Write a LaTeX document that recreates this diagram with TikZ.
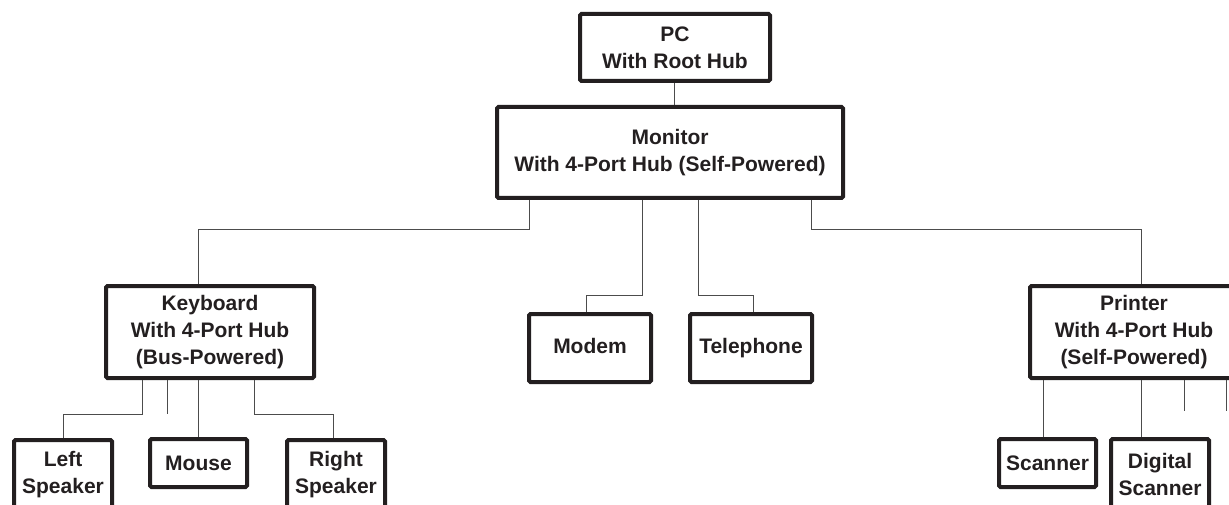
\documentclass[tikz,border=0pt]{standalone}
\usepackage{fontspec}
\setmainfont{Liberation Sans}
\usetikzlibrary{positioning}
\definecolor{inkgray}{HTML}{231F20}
\begin{document}
\begin{tikzpicture} [
				x=1pt, y=-1pt,
				every node/.style={font=\bfseries\fontsize{21}{27}\selectfont, text=inkgray},
				device/.style={draw=inkgray, line width=4pt, rounded corners=1.5pt, align=center, inner sep=0pt},
				link/.style={draw=black!70, line width=1pt}
			]
			\useasboundingbox (0,0) rectangle (1229,505);
			\node [device, minimum width=190pt, minimum height=67pt] (pc) at (675,47.5) {PC\\With Root Hub};
			\node [device, minimum width=346pt, minimum height=91pt] (monitor) at (670,152.5) {Monitor\\With 4-Port Hub (Self-Powered)};
			\node [device, minimum width=208pt, minimum height=92pt] (keyboard) at (210,332) {Keyboard\\With 4-Port Hub\\(Bus-Powered)};
			\node [device, minimum width=122pt, minimum height=68pt, text height=15pt, text depth=4.5pt] (modem) at (590,348) {Modem};
			\node [device, minimum width=122pt, minimum height=68pt, text height=15pt, text depth=4.5pt] (telephone) at (751,348) {Telephone};
			\node [device, minimum width=208pt, minimum height=92pt] (printer) at (1134,332) {Printer\\With 4-Port Hub\\(Self-Powered)};
			\node [device, minimum width=98pt, minimum height=70pt] (leftspeaker) at (63,475) {Left\\Speaker};
			\node [device, minimum width=97pt, minimum height=48pt] (mouse) at (198.5,463) {Mouse};
			\node [device, minimum width=98pt, minimum height=70pt] (rightspeaker) at (336,475) {Right\\Speaker};
			\node [device, minimum width=97pt, minimum height=48pt] (scanner) at (1047.5,463) {Scanner};
			\node [device, minimum width=98pt, minimum height=70pt] (digitalscanner) at (1160,474) {Digital\\Scanner};

			\draw [link] ([xshift=-1pt]pc.south) -- ([xshift=-1pt]pc.south |- monitor.north);
			\draw [link] ([xshift=-141pt]monitor.south) -- ++(0,30) -| ([xshift=-12pt]keyboard.north);
			\draw [link] ([xshift=-28pt]monitor.south) -- ++(0,95) -| ([xshift=-4pt]modem.north);
			\draw [link] ([xshift=28pt]monitor.south) -- ++(0,95) -| ([xshift=2pt]telephone.north);
			\draw [link] ([xshift=141pt]monitor.south) -- ++(0,30) -| ([xshift=7pt]printer.north);

			\draw [link] ([xshift=-68pt]keyboard.south) -- ++(0,34) -| (leftspeaker.north);
			\draw [link] ([xshift=-43pt]keyboard.south) -- ++(0,34);
			\draw [link] (mouse.north |- keyboard.south) -- (mouse.north);
			\draw [link] ([xshift=44pt]keyboard.south) -- ++(0,34) -| ([xshift=-3pt]rightspeaker.north);

			\draw [link] ([xshift=-4.5pt]scanner.north |- printer.south) -- ([xshift=-4.5pt]scanner.north);
			\draw [link] ([xshift=7pt]printer.south) -- ([xshift=7pt]printer.south |- digitalscanner.north);
			\draw [link] ([xshift=50pt]printer.south) -- ++(0,31);
			\draw [link] ([xshift=92pt]printer.south) -- ++(0,31);
		\end{tikzpicture}
\end{document}
